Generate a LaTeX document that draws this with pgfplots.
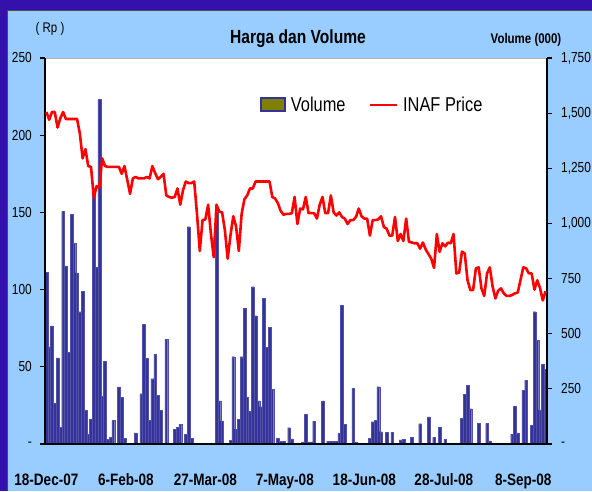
\documentclass[border=0pt]{standalone}
\usepackage{pgfplots}
\pgfplotsset{compat=1.18}
\usepackage{pgfplotstable}
\usepackage{fontspec}
\setmainfont{Liberation Sans}[FakeStretch=0.82]
\definecolor{frameblue}{RGB}{51,17,170}
\definecolor{panelblue}{RGB}{153,204,255}
\definecolor{barblue}{RGB}{51,51,153}
\definecolor{legolive}{RGB}{128,128,0}

\pgfplotstableread{
i vol price
0 777 215
1 441 210
2 536 215
3 185 215
4 391 205
5 75 211
6 1055 215
7 808 210.5
8 415 210.5
9 1040 210.5
10 910 210.5
11 776 210.5
12 600 201
13 691 185
14 153 191
15 45 180
16 114 179.5
17 1140 159.5
18 800 167
19 1564 166
20 215 185
21 374 180
22 22 179.5
23 30 179.5
24 106 179.5
25 0 179.5
26 259 179.5
27 212 175
28 26 180
29 0 171
30 0 162
31 0 172
32 51 173
33 0 172
34 228 172
35 544 172
36 389 173
37 106 172
38 296 180
39 406 175.5
40 221 171.5
41 154 173
42 0 175
43 474 161
44 0 160
45 0 159.5
46 68 160
47 76 165.5
48 90 155
49 0 164.5
50 45 170
51 985 169
52 26 169
53 0 170
54 0 149
55 0 125
56 0 145
57 0 145.5
58 0 155
59 0 136
60 0 121
61 1053 155
62 196 150.5
63 105 150
64 0 138.5
65 0 120
66 18 135
67 396 147.5
68 68 141
69 112 125
70 396 149
71 615 158.5
72 212 161
73 147 165.5
74 713 165.5
75 582 170
76 196 170
77 169 170
78 660 170
79 438 170
80 529 170
81 249 160
82 0 159
83 26 156
84 13 151
85 13 148.5
86 0 149
87 74 149
88 23 149.5
89 0 160
90 0 142.5
91 0 152.5
92 10 152
93 136 160
94 10 149.5
95 10 149.5
96 104 149.5
97 0 146
98 0 155
99 196 160
100 0 149.5
101 13 149.5
102 13 161
103 13 150
104 13 148
105 48 150
106 630 147
107 89 146
108 0 142.5
109 0 145
110 252 145
111 10 147
112 0 152.5
113 0 147.5
114 0 146
115 0 146
116 26 135
117 101 145
118 106 145
119 260 145.5
120 56 147.5
121 0 140.5
122 53 139.5
123 0 135
124 53 135
125 0 147
126 0 131.5
127 19 136
128 22 131.5
129 0 146
130 0 131
131 30 130.5
132 0 130
133 0 130
134 92 126.5
135 0 130.5
136 0 126
137 123 123
138 0 120
139 30 114
140 0 136
141 76 124.5
142 0 130
143 22 128
144 0 130.4
145 0 130
146 0 136
147 0 110.5
148 0 111
149 116 124.6
150 224 123.5
151 267 106.2
152 160 99.7
153 0 99.7
154 0 113.8
155 93 114.4
156 0 100.8
157 0 95.9
158 93 110.5
159 14 114.4
160 0 101.9
161 0 94.3
162 0 99.3
163 0 100.8
164 0 97.6
165 0 95.9
166 0 95.9
167 45 96.5
168 171 97.6
169 50 98
170 0 106.2
171 244 114.4
172 290 113.8
173 0 110.5
174 84 110.5
175 600 100
176 470 106
177 155 101
178 360 93
179 340 99
}\datatable

\begin{document}
\begin{tikzpicture}
\useasboundingbox (0pt,0pt) rectangle (592pt,491pt);
\fill[frameblue] (0pt,0pt) rectangle (592pt,491pt);
\fill[panelblue] (6.5pt,0pt) rectangle (592pt,481pt);
\draw[black!70, line width=0.6pt] (6.8pt,0pt) -- (6.8pt,480.7pt) -- (592pt,480.7pt);

\begin{axis}[
  at={(45pt,47pt)}, anchor=south west, scale only axis, width=502pt, height=386pt,
  xmin=-0.5, xmax=179.5, ymin=0, ymax=1750,
  axis y line*=right, axis x line*=bottom,
  axis line style={-},
  x axis line style={line width=2.8pt, black},
  y axis line style={line width=2pt, black},
  axis background/.style={fill=white, draw=gray!60, line width=1pt},
  axis on top,
  clip=false,
  ytick={0,250,...,1750},
  yticklabels={-,250,500,750,{1,000},{1,250},{1,500},{1,750}},
  tick align=outside, major tick length=5pt,
  ytick style={black, line width=1.2pt},
  xtick={0,28.5,57,85.5,114,142.5,171},
  xticklabels={18-Dec-07,6-Feb-08,27-Mar-08,7-May-08,18-Jun-08,28-Jul-08,8-Sep-08},
  xtick style={draw=none},
  yticklabel style={font=\fontsize{14.5}{16}\selectfont, anchor=west, inner sep=0pt, xshift=9pt},
  xticklabel style={font=\bfseries\fontsize{16.5}{18}\selectfont, anchor=base, inner sep=0pt, yshift=-36pt},
]
\addplot[ybar, bar width=1, fill=barblue, draw=barblue!85!white, line width=0.25pt] table[x=i, y=vol] {\datatable};
\end{axis}

\begin{axis}[
  at={(45pt,47pt)}, anchor=south west, scale only axis, width=502pt, height=386pt,
  xmin=-0.5, xmax=179.5, ymin=0, ymax=250,
  axis y line*=left, axis x line=none, xtick=\empty,
  axis line style={-},
  y axis line style={line width=2pt, black},
  ytick={0,50,...,250},
  yticklabels={-,50,100,150,200,250},
  tick align=outside, major tick length=5pt,
  ytick style={black, line width=1.2pt},
  yticklabel style={font=\fontsize{14.5}{16}\selectfont, anchor=east, inner sep=0pt, xshift=-8pt},
  legend columns=-1,
  legend style={at={(0.428,0.878)}, anchor=west, draw=none, fill=none, inner sep=0pt,
    font=\fontsize{20}{22}\selectfont, nodes={inner sep=0pt},
    /tikz/every odd column/.style={column sep=5pt},
    /tikz/every even column/.style={column sep=23pt}},
]
\addlegendimage{legend image code/.code={\draw[fill=legolive, draw=barblue, line width=1.8pt] (0pt,-6pt) rectangle (24pt,7pt);}}
\addlegendentry{Volume}
\addplot[red, line width=2.6pt, line join=round, mark=none,
  legend image code/.code={\draw[red, line width=2.6pt] (0pt,0pt) -- (27pt,0pt);}]
  table[x=i, y=price] {\datatable};
\addlegendentry{INAF Price}
\end{axis}

\node[font=\bfseries\fontsize{19}{21}\selectfont, anchor=base] at (298pt,447pt) {Harga dan Volume};
\node[font=\fontsize{14}{16}\selectfont, anchor=base] at (50pt,458pt) {( Rp )};
\node[font=\bfseries\fontsize{14}{16}\selectfont, anchor=base] at (526pt,447pt) {Volume (000)};
\end{tikzpicture}
\end{document}
